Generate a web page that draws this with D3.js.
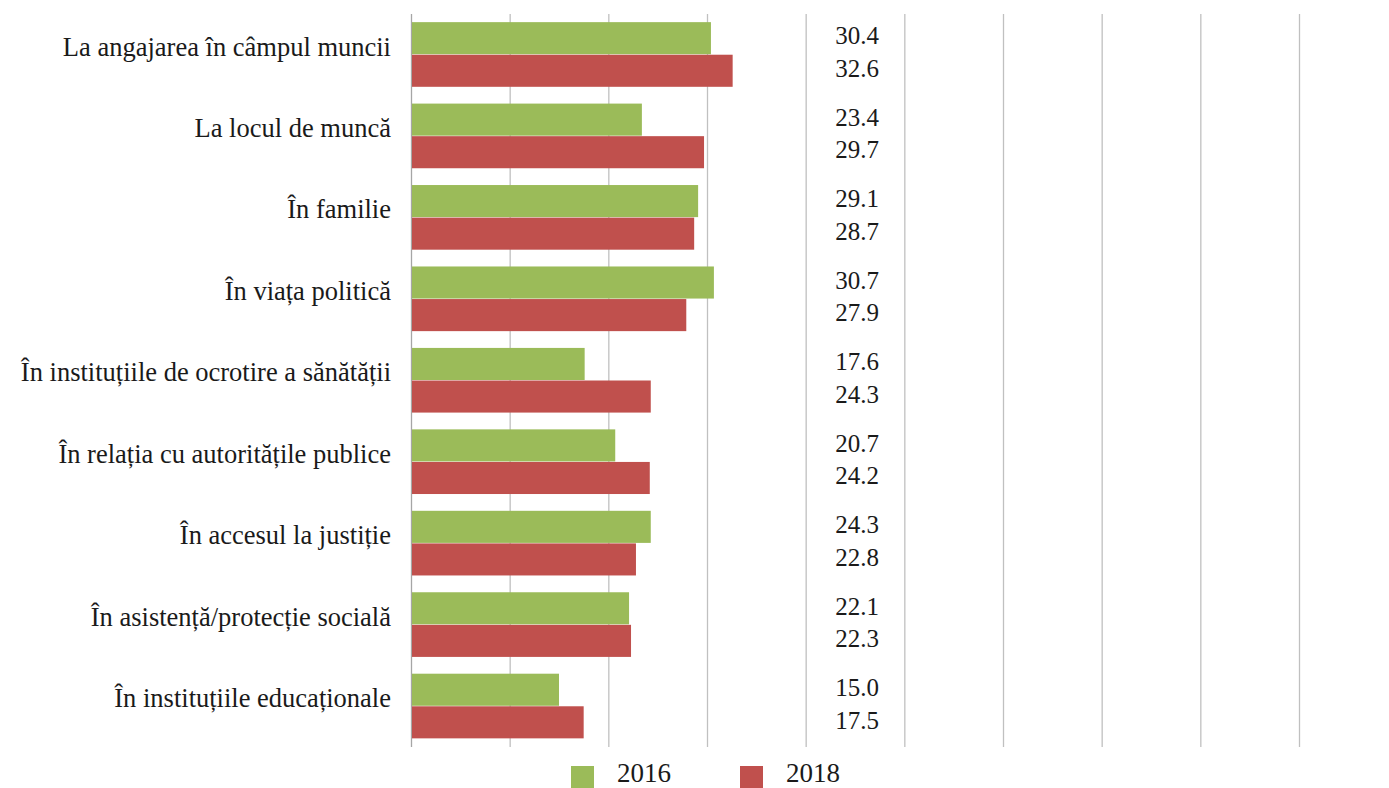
<!DOCTYPE html>
<html>
<head>
<meta charset="utf-8">
<script src="https://cdn.jsdelivr.net/npm/d3@7"></script>
<style>
  html, body { margin: 0; padding: 0; background: #ffffff; }
  svg { display: block; }
</style>
</head>
<body>
<svg id="chart" width="1389" height="788"></svg>
<script>
// Categories (top to bottom) and the two survey series
const categories = [
  "La angajarea în câmpul muncii",
  "La locul de muncă",
  "În familie",
  "În viața politică",
  "În instituțiile de ocrotire a sănătății",
  "În relația cu autoritățile publice",
  "În accesul la justiție",
  "În asistență/protecție socială",
  "În instituțiile educaționale"
];
const years = ["2016", "2018"];
const values2016 = [30.4, 23.4, 29.1, 30.7, 17.6, 20.7, 24.3, 22.1, 15.0];
const values2018 = [32.6, 29.7, 28.7, 27.9, 24.3, 24.2, 22.8, 22.3, 17.5];
const gridTicks = [0, 10, 20, 30, 40, 50, 60, 70, 80, 90];
const labelColumnValue = 43;   // value labels sit in a fixed column

const colors = { "2016": "#9BBB59", "2018": "#C0504D" };
const series = { "2016": values2016, "2018": values2018 };
const textFont = '"Liberation Serif"';

const svg = d3.select("#chart");
const plot = { left: 411, right: 1299, top: 14, bottom: 747 };

const x = d3.scaleLinear().domain([0, 90]).range([plot.left, plot.right]);
const y = d3.scaleBand().domain(categories).range([plot.top, plot.bottom])
  .paddingInner(0.2).paddingOuter(0.1);
const yInner = d3.scaleBand().domain(years).range([0, y.bandwidth()]);

// Vertical gridlines
svg.append("g")
  .selectAll("line")
  .data(gridTicks)
  .join("line")
  .attr("x1", d => x(d) + 0.5).attr("x2", d => x(d) + 0.5)
  .attr("y1", plot.top).attr("y2", plot.bottom)
  .attr("stroke", d => d === 0 ? "#a6a6a6" : "#c0c0c0")
  .attr("stroke-width", 1.3);

// Bars
const groups = svg.append("g")
  .selectAll("g")
  .data(categories)
  .join("g")
  .attr("transform", d => `translate(0,${y(d)})`);

groups.selectAll("rect")
  .data((c, i) => years.map(yr => ({ yr, v: series[yr][i] })))
  .join("rect")
  .attr("x", x(0) + 1)
  .attr("y", d => yInner(d.yr))
  .attr("width", d => x(d.v) - x(0) - 1)
  .attr("height", yInner.bandwidth() - 0.5)
  .attr("fill", d => colors[d.yr]);

// Value labels in a fixed column
groups.selectAll("text.val")
  .data((c, i) => years.map(yr => ({ yr, v: series[yr][i] })))
  .join("text")
  .attr("class", "val")
  .attr("x", x(labelColumnValue))
  .attr("y", d => yInner(d.yr) + yInner.bandwidth() / 2)
  .attr("dy", "0.24em")
  .attr("font-size", 25)
  .attr("fill", "#1a1a1a")
  .style("font-family", textFont)
  .text(d => d.v.toFixed(1));

// Category labels
svg.append("g")
  .selectAll("text")
  .data(categories)
  .join("text")
  .attr("x", plot.left - 20)
  .attr("y", d => y(d) + y.bandwidth() / 2)
  .attr("dy", "0.03em")
  .attr("text-anchor", "end")
  .attr("font-size", 26.5)
  .attr("fill", "#1a1a1a")
  .style("font-family", textFont)
  .text(d => d);

// Legend
const legendItems = [
  { yr: "2016", sx: 571 },
  { yr: "2018", sx: 740 }
];
const legend = svg.append("g");
legend.selectAll("rect")
  .data(legendItems)
  .join("rect")
  .attr("x", d => d.sx).attr("y", 766)
  .attr("width", 23).attr("height", 22)
  .attr("fill", d => colors[d.yr]);
legend.selectAll("text")
  .data(legendItems)
  .join("text")
  .attr("x", d => d.sx + 46).attr("y", 782)
  .attr("font-size", 27)
  .attr("fill", "#1a1a1a")
  .style("font-family", textFont)
  .text(d => d.yr);
</script>
</body>
</html>
